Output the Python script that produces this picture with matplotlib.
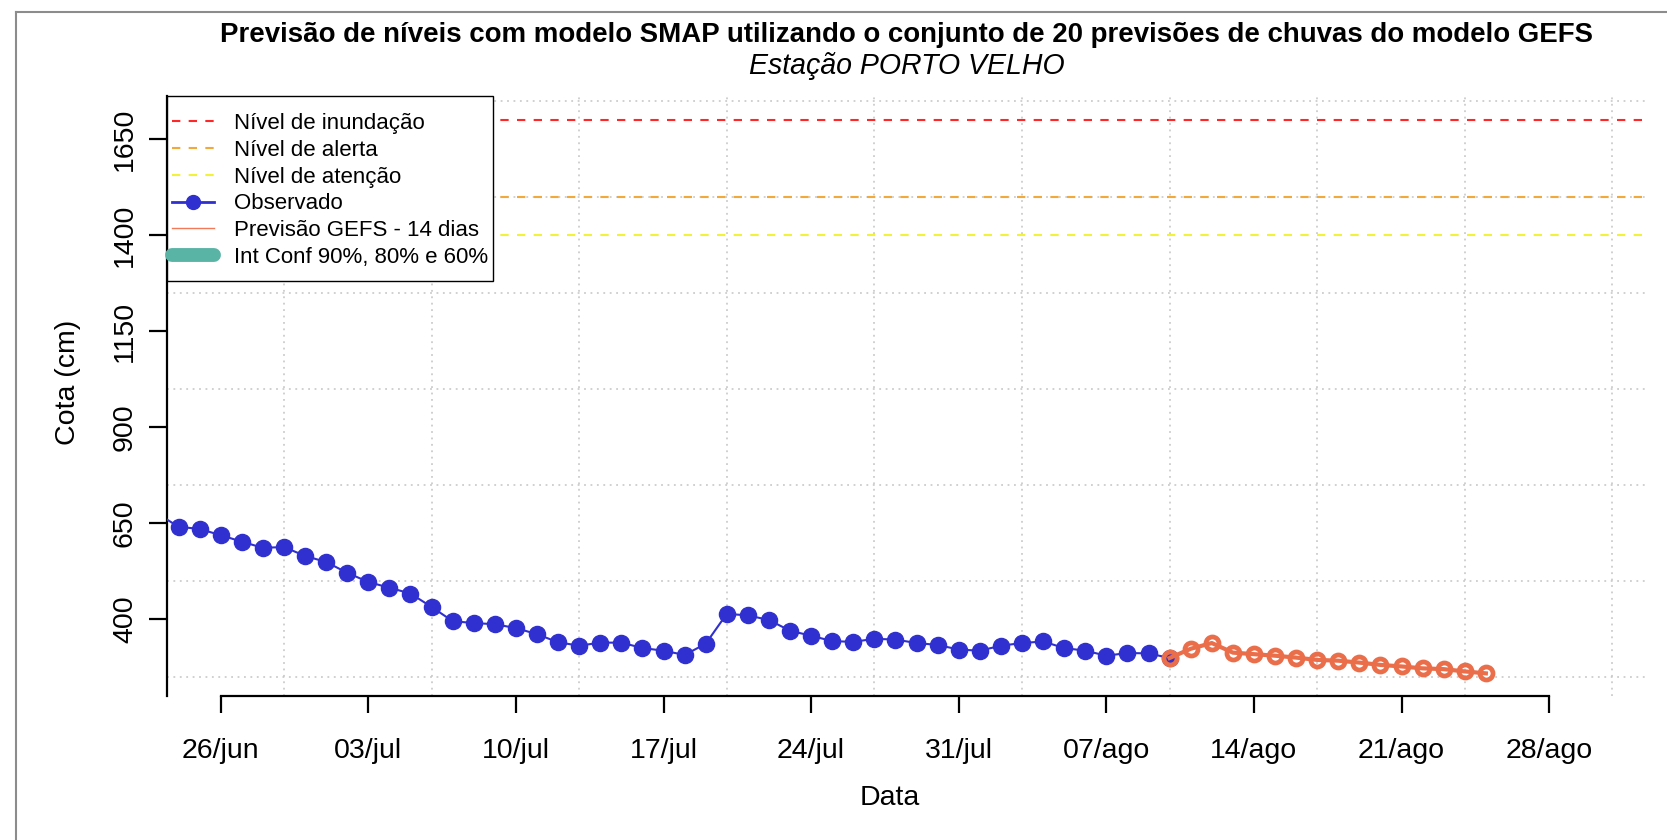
import matplotlib
matplotlib.use('Agg')
import matplotlib.pyplot as plt
import matplotlib.dates as mdates
from matplotlib.lines import Line2D
from matplotlib.patches import Rectangle
import pandas as pd

plt.rcParams['font.family'] = ['Liberation Sans', 'DejaVu Sans']

# ---------------- data ----------------
obs_start = '2024-06-23'
obs_values = [675, 641, 635, 619, 602, 586, 588, 565, 549, 521, 497, 482, 467, 432,
              395, 390, 387, 377, 361, 340, 331, 339, 339, 325, 318, 307, 336, 414,
              410, 398, 370, 357, 343, 341, 349, 347, 338, 333, 321, 318, 331, 338,
              342, 325, 318, 305, 312, 311, 299]
fc_start = '2024-08-10'
fc_values = [299, 323, 338, 313, 309, 305, 300, 294, 292, 287, 281, 277, 272, 270, 264, 259]

nivel_inundacao = 1700
nivel_alerta = 1500
nivel_atencao = 1400

xtick_dates = ['2024-06-26', '2024-07-03', '2024-07-10', '2024-07-17', '2024-07-24',
               '2024-07-31', '2024-08-07', '2024-08-14', '2024-08-21', '2024-08-28']
xtick_labels = ['26/jun', '03/jul', '10/jul', '17/jul', '24/jul', '31/jul',
                '07/ago', '14/ago', '21/ago', '28/ago']
xgrid_dates = ['2024-06-29', '2024-07-06', '2024-07-13', '2024-07-20', '2024-07-27',
               '2024-08-03', '2024-08-10', '2024-08-17', '2024-08-24', '2024-08-31']
ytick_values = [400, 650, 900, 1150, 1400, 1650]
ygrid_values = [250, 500, 750, 1000, 1250, 1500, 1750]

title = 'Previsão de níveis com modelo SMAP utilizando o conjunto de 20 previsões de chuvas do modelo GEFS'
subtitle = 'Estação PORTO VELHO'

# ---------------- styling ----------------
BLUE = '#3030D0'
CORAL = '#EB6E4B'
W, H = 1667, 840
AX_L, AX_R, AX_T, AX_B = 166.7, 1647.0, 96.0, 696.0
AX_W, AX_H = AX_R - AX_L, AX_B - AX_T

obs_dates = pd.date_range(obs_start, periods=len(obs_values), freq='D')
fc_dates = pd.date_range(fc_start, periods=len(fc_values), freq='D')

fig = plt.figure(figsize=(W / 100, H / 100), dpi=100)
ax = fig.add_axes([AX_L / W, (H - AX_B) / H, AX_W / W, AX_H / H])

x0 = mdates.date2num(pd.Timestamp('2024-06-26'))
ax.set_xlim(x0 - 2.56, x0 + 67.64)
ax.set_ylim(200, 1763)

# grid
for d in xgrid_dates:
    ax.axvline(pd.Timestamp(d), color='#C4C4C4', lw=1.1, ls=(0, (1.2, 3)), zorder=1)
for v in ygrid_values:
    ax.axhline(v, color='#C4C4C4', lw=1.1, ls=(0, (1.2, 3)), zorder=1)

# reference levels
ax.axhline(nivel_inundacao, color='#FF2828', lw=1.5, ls=(0, (4, 4)), zorder=2)
ax.axhline(nivel_alerta, color='#F2A93B', lw=1.5, ls=(0, (4, 4)), zorder=2)
ax.axhline(nivel_atencao, color='#F2F23A', lw=1.5, ls=(0, (4, 4)), zorder=2)

# series
ax.plot(obs_dates, obs_values, color=BLUE, lw=1.5, marker='o', ms=11.6,
        mfc=BLUE, mec=BLUE, zorder=3)
ax.plot(fc_dates, fc_values, color=CORAL, lw=3, marker='o', ms=9.4,
        mfc='none', mec=CORAL, mew=3.4, zorder=4)

# axes
for s in ['top', 'right']:
    ax.spines[s].set_visible(False)
ax.spines['left'].set_linewidth(1.6)
ax.spines['bottom'].set_linewidth(1.6)
ax.spines['bottom'].set_bounds(mdates.date2num(pd.Timestamp(xtick_dates[0])),
                               mdates.date2num(pd.Timestamp(xtick_dates[-1])))
ax.set_xticks([pd.Timestamp(d) for d in xtick_dates])
ax.set_xticklabels(xtick_labels)
ax.set_yticks(ytick_values)
ax.set_yticklabels([str(v) for v in ytick_values])
ax.tick_params(axis='x', length=12.5, width=1.6, labelsize=20.5, pad=17.5)
ax.tick_params(axis='y', length=13, width=1.6, labelsize=20.5, pad=7.7, labelrotation=90)
for lab in ax.get_yticklabels():
    lab.set_va('center')

fig.text(68.3 / W, (H - 382) / H, 'Cota (cm)', rotation=90, fontsize=20.5,
         ha='center', va='center')
fig.text(890 / W, (H - 798) / H, 'Data', fontsize=20.5,
         ha='center', va='center')

# titles
cx = (AX_L + AX_R) / 2 / W
t1 = fig.text(cx, (H - 41.7) / H, title, fontsize=17, fontweight='bold',
              ha='center', va='baseline')
t2 = fig.text(cx, (H - 74) / H, subtitle, fontsize=17, fontstyle='italic',
              ha='center', va='baseline')
fig.canvas.draw()
r = fig.canvas.get_renderer()
w1 = t1.get_window_extent(r).width
t1.set_fontsize(17 * 1376 / w1)
t2.set_fontsize(17 * 1376 / w1 * 1.03)

# legend box (drawn separately so its padding can differ vertically)
box_right, box_bottom = 493.3, 281.0
ax.add_patch(Rectangle((0, (AX_B - box_bottom) / AX_H), (box_right - AX_L) / AX_W,
                       (box_bottom - AX_T) / AX_H, transform=ax.transAxes,
                       facecolor='white', edgecolor='black', lw=1.0,
                       clip_on=False, zorder=9))

handles = [
    Line2D([], [], color='#FF2828', lw=1.5, ls=(0, (4, 4))),
    Line2D([], [], color='#F2A93B', lw=1.5, ls=(0, (4, 4))),
    Line2D([], [], color='#F2F23A', lw=1.5, ls=(0, (4, 4))),
    Line2D([], [], color=BLUE, lw=2, marker='o', ms=10, mfc=BLUE, mec=BLUE),
    Line2D([], [], color='#F07A5A', lw=1),
    Line2D([], [], color='#5AB4A6', lw=10, solid_capstyle='round'),
]
labels = ['Nível de inundação', 'Nível de alerta', 'Nível de atenção', 'Observado',
          'Previsão GEFS - 14 dias', 'Int Conf 90%, 80% e 60%']
leg = ax.legend(handles, labels, loc='upper left',
                bbox_to_anchor=(-6 / AX_W, 1 - 6 / AX_H),
                bbox_transform=ax.transAxes, borderaxespad=0, fontsize=16,
                frameon=False, handlelength=1.9, handletextpad=0.9,
                borderpad=0.5, labelspacing=0.26)
leg.set_zorder(10)

# outer frame (partial)
fig.add_artist(Line2D([15.7 / W, 15.7 / W], [0, (H - 12.3) / H],
                      transform=fig.transFigure, color='#8C8C8C', lw=1.5))
fig.add_artist(Line2D([15.7 / W, 1], [(H - 12.3) / H, (H - 12.3) / H],
                      transform=fig.transFigure, color='#8C8C8C', lw=1.5))

fig.savefig('out.png', dpi=100)
